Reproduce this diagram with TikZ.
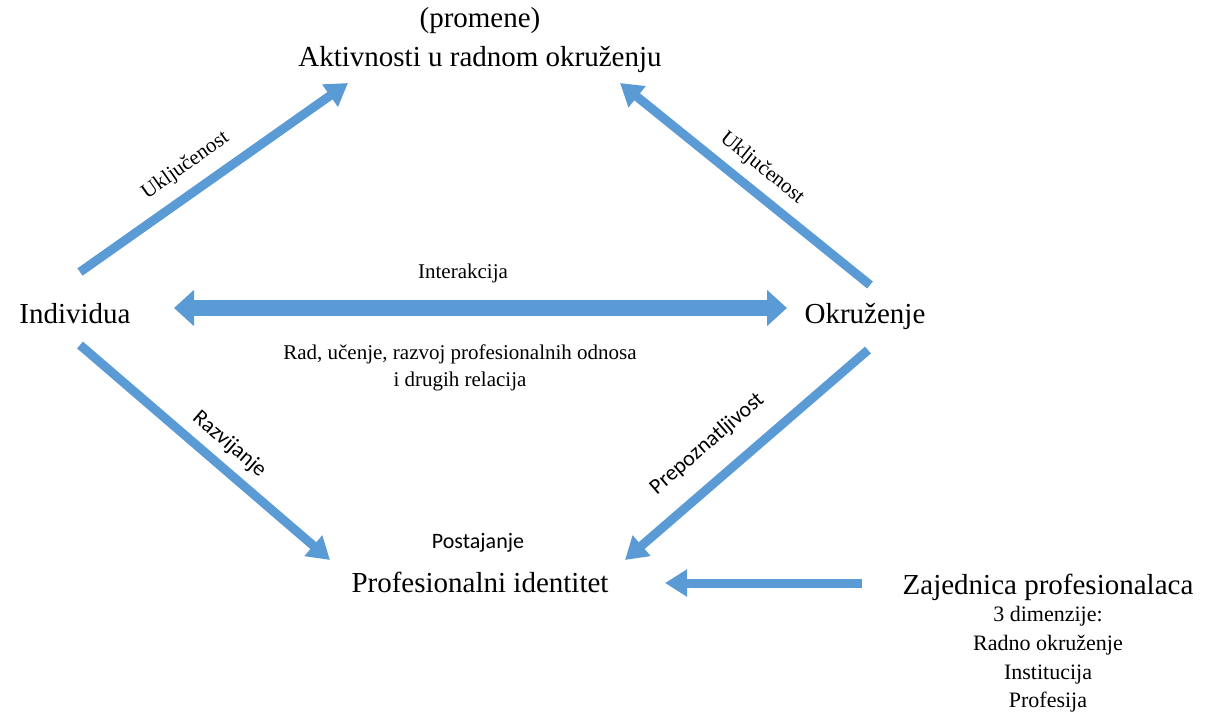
\documentclass[tikz,border=0pt]{standalone}
\usepackage{fontspec}
\setmainfont{Liberation Serif}
\newfontfamily\calibri{Carlito}
\usepackage{tikz}
\usetikzlibrary{arrows.meta,positioning}
\definecolor{arrblue}{HTML}{5B9BD5}
\tikzset{
  big/.style={font=\fontsize{29}{39}\selectfont, inner sep=0pt},
  small/.style={font=\fontsize{21}{27}\selectfont, inner sep=0pt, align=center, text=black},
  side/.style={font=\calibri\fontsize{22}{26}\selectfont, inner sep=0pt, text=black},
  arr/.style={arrblue, line width=9pt, -{Triangle[length=22pt,width=26pt]}},
  dblarr/.style={arrblue, line width=16pt, {Triangle[length=20pt,width=35pt]}-{Triangle[length=20pt,width=35pt]}},
}

\begin{document}
\begin{tikzpicture}[x=1pt,y=-1pt]
  \useasboundingbox (0,0) rectangle (1210,713);
  % texts
  \node[big,anchor=base] (prom) at (480,27) {(promene)};
  \node[big,anchor=base] (akt) at (480,66) {Aktivnosti u radnom okruženju};
  \node[big,anchor=base] (ind) at (75,323) {Individua};
  \node[big,anchor=base] (okr) at (865,323) {Okruženje};
  \node[big,anchor=base] (pid) at (480,592) {Profesionalni identitet};
  \node[big,anchor=base] (zaj) at (1048,594) {Zajednica profesionalaca};
  \node[small,below=6pt of zaj,font=\fontsize{22}{28.7}\selectfont] (dim) {3 dimenzije:\\Radno okruženje\\Institucija\\Profesija};
  \node[small,anchor=base] (inter) at (463,278) {Interakcija};
  \node[small] (rad) at (460,368) {Rad, učenje, razvoj profesionalnih odnosa\\i drugih relacija};
  \node[side,anchor=base] (post) at (478,548) {Postajanje};
  % arrow ends
  \coordinate (i1) at (80,272);
  \coordinate (t1) at (348,83);
  \coordinate (o1) at (870,285);
  \coordinate (t2) at (620,83);
  \coordinate (i2) at (80,345);
  \coordinate (t3) at (330,560);
  \coordinate (o2) at (868,350);
  \coordinate (t4) at (625,560);
  \coordinate (z1) at (862,583);
  \coordinate (t5) at (665,583);
  \coordinate (dl) at (174,308);
  \coordinate (dr) at (787,308);
  % arrows
  \draw[dblarr] (dl) -- (dr);
  \draw[arr] (i1) -- node[small,pos=0.45,sloped,above=12pt] {Uključenost} (t1);
  \draw[arr] (o1) -- node[small,pos=0.49,sloped,above=9pt] {Uključenost} (t2);
  \draw[arr] (i2) -- node[side,pos=0.54,sloped,above=8pt] {Razvijanje} (t3);
  \draw[arr] (o2) -- node[side,pos=0.57,sloped,above=20pt] {Prepoznatljivost} (t4);
  \draw[arr] (z1) -- (t5);
\end{tikzpicture}
\end{document}
